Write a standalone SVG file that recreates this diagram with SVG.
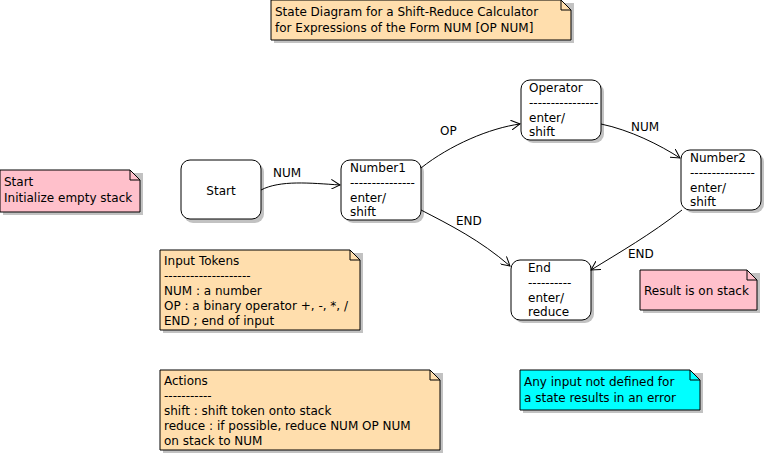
<svg xmlns="http://www.w3.org/2000/svg" width="765" height="455" viewBox="0 0 765 455">
<defs>
<style>
text{font-family:"DejaVu Sans",sans-serif;font-size:12px;fill:#000}
.st{fill:#fff;stroke:#000;stroke-width:1}
.sh{fill:#999;opacity:.6}
.nt{stroke:#000;stroke-width:1}
.c{fill:none;stroke:#000;stroke-width:1}
</style>
<marker id="a" markerWidth="10" markerHeight="10" refX="9" refY="5" orient="auto" markerUnits="userSpaceOnUse"><path d="M0,0 L9,5 L0,10" fill="none" stroke="#000"/></marker>
</defs>
<rect width="765" height="455" fill="#fff"/>
<g id="title"><rect x="274" y="3" width="300" height="40" class="sh"/><path d="M271,0 H561 L571,10 V40 H271 Z" fill="#ffdead" class="nt"/><path d="M561,0 V10 H571" fill="none" stroke="#000"/><text x="275" y="16">State Diagram for a Shift-Reduce Calculator</text><text x="275" y="32">for Expressions of the Form NUM [OP NUM]</text></g>
<g id="note-start"><rect x="3" y="173" width="140" height="42" class="sh"/><path d="M0,170 H130 L140,180 V212 H0 Z" fill="#ffc0cb" class="nt"/><path d="M130,170 V180 H140" fill="none" stroke="#000"/><text x="4" y="186">Start</text><text x="4" y="202">Initialize empty stack</text></g>
<g id="note-tokens"><rect x="163" y="253" width="200" height="80" class="sh"/><path d="M160,250 H350 L360,260 V330 H160 Z" fill="#ffdead" class="nt"/><path d="M350,250 V260 H360" fill="none" stroke="#000"/><text x="164" y="265">Input Tokens</text><text x="164" y="280">--------------------</text><text x="164" y="295">NUM : a number</text><text x="164" y="310">OP : a binary operator +, -, *, /</text><text x="164" y="325">END ; end of input</text></g>
<g id="note-actions"><rect x="163" y="373" width="280" height="80" class="sh"/><path d="M160,370 H430 L440,380 V450 H160 Z" fill="#ffdead" class="nt"/><path d="M430,370 V380 H440" fill="none" stroke="#000"/><text x="164" y="385">Actions</text><text x="164" y="400">-----------</text><text x="164" y="415">shift : shift token onto stack</text><text x="164" y="430">reduce : if possible, reduce NUM OP NUM</text><text x="164" y="445">on stack to NUM</text></g>
<g id="note-error"><rect x="523" y="373" width="180" height="40" class="sh"/><path d="M520,370 H690 L700,380 V410 H520 Z" fill="#00ffff" class="nt"/><path d="M690,370 V380 H700" fill="none" stroke="#000"/><text x="524" y="386">Any input not defined for</text><text x="524" y="402">a state results in an error</text></g>
<g id="note-result"><rect x="643" y="273" width="117" height="40" class="sh"/><path d="M640,270 H747 L757,280 V310 H640 Z" fill="#ffc0cb" class="nt"/><path d="M747,270 V280 H757" fill="none" stroke="#000"/><text x="644" y="295">Result is on stack</text></g>
<g id="Start"><rect x="184" y="163" width="80" height="60" rx="9" class="sh"/><rect x="181" y="160" width="80" height="59" rx="9" class="st"/><text x="221" y="195" text-anchor="middle">Start</text></g>
<g id="Number1"><rect x="344" y="163" width="80" height="60" rx="9" class="sh"/><rect x="341" y="160" width="80" height="60" rx="9" class="st"/><text x="350" y="172">Number1</text><text x="350" y="187">---------------</text><text x="350" y="202">enter/</text><text x="350" y="216">shift</text></g>
<g id="Operator"><rect x="524" y="83" width="80" height="60" rx="9" class="sh"/><rect x="521" y="80" width="80" height="60" rx="9" class="st"/><text x="529" y="92">Operator</text><text x="529" y="107">----------------</text><text x="529" y="122">enter/</text><text x="529" y="136">shift</text></g>
<g id="Number2"><rect x="684" y="153" width="80" height="60" rx="9" class="sh"/><rect x="681" y="150" width="80" height="60" rx="9" class="st"/><text x="690" y="162">Number2</text><text x="690" y="177">---------------</text><text x="690" y="192">enter/</text><text x="690" y="206">shift</text></g>
<g id="End"><rect x="514" y="263" width="80" height="60" rx="9" class="sh"/><rect x="511" y="260" width="80" height="60" rx="9" class="st"/><text x="528" y="272">End</text><text x="528" y="287">----------</text><text x="528" y="302">enter/</text><text x="528" y="316">reduce</text></g>
<g id="connectors">
<path class="c" marker-end="url(#a)" d="M261,190 C280,180 310,183 340,185"/>
<path class="c" marker-end="url(#a)" d="M421,168 C450,145 490,128 520,124"/>
<path class="c" marker-end="url(#a)" d="M601,124 C630,130 660,145 680,158"/>
<path class="c" marker-end="url(#a)" d="M421,210 C450,225 480,240 510,266"/>
<path class="c" marker-end="url(#a)" d="M682,210 C650,235 620,252 591,270"/>
<text x="273" y="177">NUM</text><text x="440" y="135">OP</text><text x="631" y="131">NUM</text><text x="456" y="225">END</text><text x="628" y="258">END</text>
</g>
</svg>
